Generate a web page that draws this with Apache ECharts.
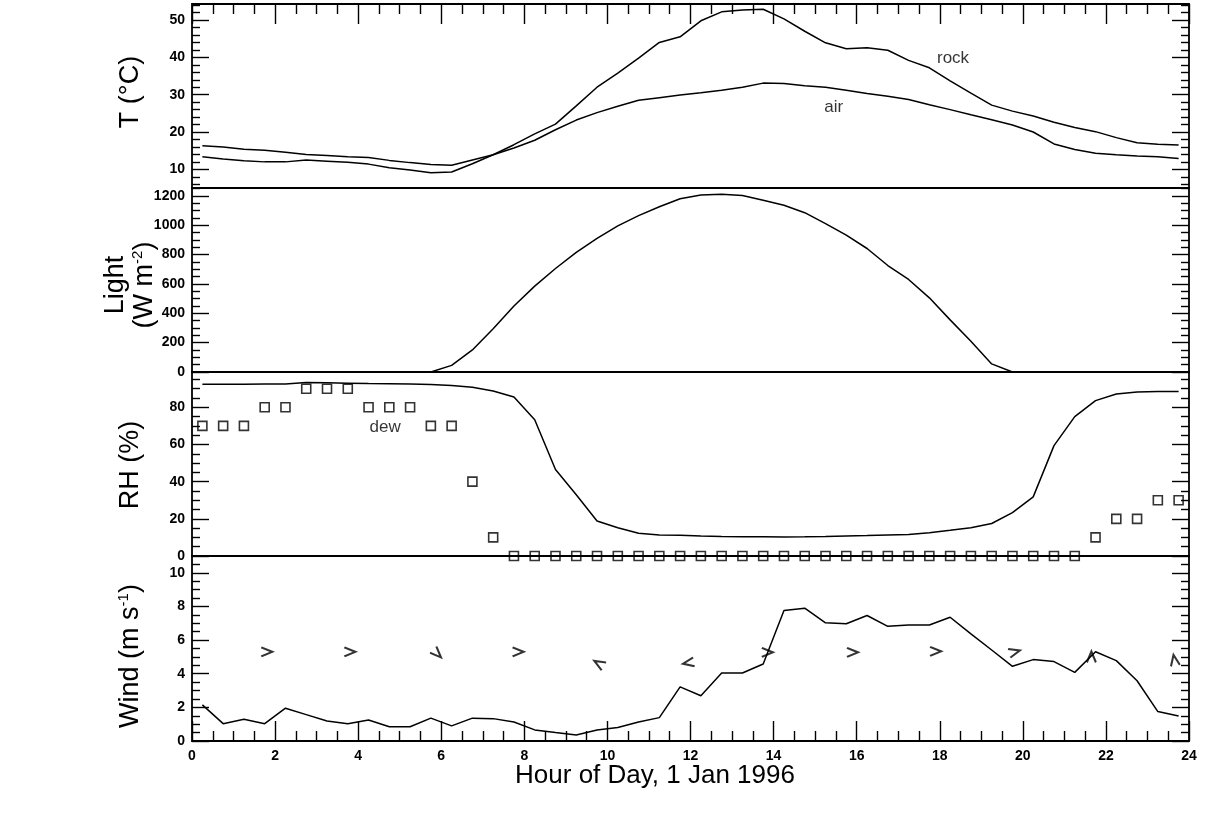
<!DOCTYPE html>
<html>
<head>
<meta charset="utf-8">
<script src="https://cdn.jsdelivr.net/npm/echarts@6/dist/echarts.min.js"></script>
<style>
  html, body { margin: 0; padding: 0; background: #fff; }
  #chart { width: 1215px; height: 819px; }
</style>
</head>
<body>
<div id="chart"></div>
<script>
// ---------- DATA ----------
const hours = [0.25,0.75,1.25,1.75,2.25,2.75,3.25,3.75,4.25,4.75,5.25,5.75,
  6.25,6.75,7.25,7.75,8.25,8.75,9.25,9.75,10.25,10.75,11.25,11.75,
  12.25,12.75,13.25,13.75,14.25,14.75,15.25,15.75,16.25,16.75,17.25,17.75,
  18.25,18.75,19.25,19.75,20.25,20.75,21.25,21.75,22.25,22.75,23.25,23.75];

const rockT = [13.4,12.8,12.3,12.0,12.0,12.5,12.2,11.9,11.4,10.4,9.8,9.1,
  9.3,11.5,13.9,16.6,19.5,22.1,27.0,32.0,35.8,39.8,44.0,45.5,
  49.8,52.2,52.7,52.9,50.3,47.0,43.9,42.3,42.6,41.9,39.2,37.2,
  33.7,30.4,27.2,25.6,24.3,22.6,21.2,20.1,18.5,17.1,16.7,16.5];

const airT = [16.3,16.0,15.4,15.1,14.6,14.0,13.7,13.4,13.2,12.4,11.8,11.3,
  11.1,12.5,13.9,15.7,17.8,20.6,23.2,25.2,26.9,28.5,29.2,29.9,
  30.5,31.2,32.0,33.1,33.0,32.4,32.0,31.2,30.3,29.6,28.7,27.3,
  26.0,24.6,23.3,21.9,20.0,16.8,15.3,14.3,13.9,13.6,13.4,12.9];

const light = [0,0,0,0,0,0,0,0,0,0,0,0,
  45,150,295,450,585,705,815,910,995,1065,1125,1180,
  1205,1210,1202,1170,1135,1085,1010,932,841,725,630,505,
  355,210,55,0,0,0,0,0,0,0,0,0];

const rh = [92.4,92.4,92.4,92.5,92.6,93.3,93.2,93.0,92.8,92.7,92.6,92.3,
  91.8,90.8,88.8,85.5,73.3,46.5,33.0,18.8,15.2,12.2,11.3,11.1,
  10.7,10.5,10.4,10.3,10.2,10.3,10.5,10.8,11.0,11.3,11.6,12.5,
  13.8,15.2,17.5,23.3,31.8,59.4,75.0,83.6,87.2,88.3,88.5,88.5];

const dew = [70,70,70,80,80,90,90,90,80,80,80,70,
  70,40,10,0,0,0,0,0,0,0,0,0,
  0,0,0,0,0,0,0,0,0,0,0,0,
  0,0,0,0,0,0,0,10,20,20,30,30];

const wind = [2.15,1.03,1.29,1.03,1.95,1.57,1.19,1.03,1.25,0.85,0.85,1.36,
  0.90,1.36,1.33,1.13,0.66,0.50,0.36,0.66,0.80,1.13,1.39,3.22,
  2.69,4.04,4.04,4.58,7.76,7.90,7.03,6.97,7.46,6.82,6.90,6.90,
  7.36,6.37,5.41,4.44,4.84,4.72,4.08,5.31,4.78,3.58,1.75,1.49];

// wind direction arrows: hour, height on wind axis, arrow rotation (deg, counter-clockwise from pointing right)
const arrowHours = [1.8,3.8,5.9,7.85,9.8,11.95,13.85,15.9,17.9,19.8,21.65,23.65];
const arrowLevel = [5.3,5.3,5.2,5.3,4.6,4.65,5.27,5.27,5.33,5.3,5.0,4.8];
const arrowRot = [0,0,-45,0,150,190,0,0,0,15,90,100];

// tick labels
const xTicks = [0,2,4,6,8,10,12,14,16,18,20,22,24];
const tTicks = [10,20,30,40,50];
const lightTicks = [0,200,400,600,800,1000,1200];
const rhTicks = [0,20,40,60,80];
const windTicks = [0,2,4,6,8,10];

// annotations: [hour, value, text]
const rockLabel = [18.32, 39.8, 'rock'];
const airLabel = [15.45, 26.7, 'air'];
const dewLabel = [4.65, 69, 'dew'];

// ---------- BUILD ----------
const FONT = '"Liberation Sans", Arial, Helvetica, sans-serif';
function minorList(from, to, step, majors) {
  const out = [];
  for (let v = from; v <= to + 1e-9; v += step) {
    const r = Math.round(v * 100) / 100;
    if (majors.indexOf(r) < 0) out.push(r);
  }
  return out;
}
const tMinor = minorList(6, 54, 2, tTicks);
const lightMinor = minorList(50, 1250, 50, lightTicks);
const rhMinor = minorList(5, 95, 5, rhTicks);
const windMinor = minorList(0.5, 10.5, 0.5, windTicks);

const tickStyle = { color: '#000', width: 1.4 };
const tickLabel = { color: '#000', fontSize: 14, fontWeight: 'bold', fontFamily: FONT,
  formatter: function (v) { return String(v); } };
function yAxesFor(grid, min, max, major, minor) {
  const base = { type: 'value', gridIndex: grid, min: min, max: max,
    axisLine: { show: false }, splitLine: { show: false } };
  return [
    Object.assign({}, base, { position: 'left',
      axisTick: { show: true, inside: true, length: 17, customValues: major, lineStyle: tickStyle },
      axisLabel: Object.assign({ show: true, customValues: major, margin: 7 }, tickLabel) }),
    Object.assign({}, base, { position: 'left',
      axisTick: { show: true, inside: true, length: 8, customValues: minor, lineStyle: tickStyle },
      axisLabel: { show: false } }),
    Object.assign({}, base, { position: 'right',
      axisTick: { show: true, inside: true, length: 17, customValues: major, lineStyle: tickStyle },
      axisLabel: { show: false } }),
    Object.assign({}, base, { position: 'right',
      axisTick: { show: true, inside: true, length: 8, customValues: minor, lineStyle: tickStyle },
      axisLabel: { show: false } })
  ];
}

const gridBase = { left: 192, right: 26, show: true, borderColor: '#000', borderWidth: 1.8,
  backgroundColor: 'transparent' };
const grids = [
  Object.assign({ top: 4, height: 184 }, gridBase),
  Object.assign({ top: 188, height: 184 }, gridBase),
  Object.assign({ top: 372, height: 184 }, gridBase),
  Object.assign({ top: 556, height: 185 }, gridBase)
];

function xAxisFor(grid, pos, showTicks, showLabels) {
  return {
    type: 'value', gridIndex: grid, min: 0, max: 24, interval: 2, position: pos,
    axisLine: { show: false }, splitLine: { show: false },
    axisTick: { show: showTicks, inside: true, length: 20, lineStyle: tickStyle },
    minorTick: { show: showTicks, splitNumber: 4, length: 10, lineStyle: tickStyle },
    axisLabel: Object.assign({ show: showLabels, customValues: xTicks, margin: 8 }, tickLabel)
  };
}

const zip = (xs, ys) => xs.map((x, i) => [x, ys[i]]);
const lineStyle = { color: '#000', width: 1.5 };
function lineSeries(name, xi, yi, values) {
  return { name: name, type: 'line', xAxisIndex: xi, yAxisIndex: yi, data: zip(hours, values),
    symbol: 'none', lineStyle: lineStyle, silent: true, z: 3 };
}
function textSeries(xi, yi, lab) {
  return { type: 'scatter', xAxisIndex: xi, yAxisIndex: yi, data: [[lab[0], lab[1]]],
    symbolSize: 1, itemStyle: { color: 'rgba(0,0,0,0)' }, silent: true,
    label: { show: true, position: 'inside', formatter: lab[2], color: '#000', fontSize: 17,
      fontFamily: FONT } };
}

const arrowData = arrowHours.map((h, i) => [h, arrowLevel[i], arrowRot[i]]);

const nameStyle = { fill: '#000', align: 'center', verticalAlign: 'middle',
  textAlign: 'center', textVerticalAlign: 'middle' };
const richName = { a: { fontSize: 27, fontFamily: FONT, lineHeight: 29, fill: '#000' },
  s: { fontSize: 15, fontFamily: FONT, lineHeight: 15, verticalAlign: 'top', fill: '#000' } };

const option = {
  animation: false,
  backgroundColor: '#fff',
  grid: grids,
  xAxis: [
    xAxisFor(0, 'top', true, false),
    xAxisFor(1, 'bottom', false, false),
    xAxisFor(2, 'bottom', false, false),
    xAxisFor(3, 'bottom', true, true)
  ],
  yAxis: [].concat(
    yAxesFor(0, 5, 54.3, tTicks, tMinor),
    yAxesFor(1, 0, 1253, lightTicks, lightMinor),
    yAxesFor(2, 0, 99, rhTicks, rhMinor),
    yAxesFor(3, 0, 11, windTicks, windMinor)
  ),
  series: [
    lineSeries('rock', 0, 0, rockT),
    lineSeries('air', 0, 0, airT),
    lineSeries('light', 1, 4, light),
    lineSeries('RH', 2, 8, rh),
    { name: 'dew', type: 'scatter', xAxisIndex: 2, yAxisIndex: 8, data: zip(hours, dew),
      symbol: 'rect', symbolSize: 9, silent: true, clip: false,
      itemStyle: { color: 'rgba(0,0,0,0)', borderColor: '#000', borderWidth: 1.6 } },
    lineSeries('wind', 3, 12, wind),
    { name: 'direction', type: 'scatter', xAxisIndex: 3, yAxisIndex: 12, data: arrowData,
      symbol: 'path://M0,0 L12,5 L0,10', symbolSize: [11, 9], silent: true,
      symbolRotate: function (v) { return v[2]; },
      itemStyle: { color: 'rgba(0,0,0,0)', borderColor: '#000', borderWidth: 2.2 } },
    textSeries(0, 0, rockLabel),
    textSeries(0, 0, airLabel),
    textSeries(2, 8, dewLabel)
  ],
  graphic: [
    { type: 'text', x: 131, y: 92, rotation: Math.PI / 2,
      style: Object.assign({ text: 'T (°C)', font: '27px ' + FONT }, nameStyle) },
    { type: 'text', x: 130, y: 285, rotation: Math.PI / 2,
      style: Object.assign({ text: '{a|Light}\n{a|(W m}{s|-2}{a|)}', rich: richName }, nameStyle) },
    { type: 'text', x: 131, y: 465, rotation: Math.PI / 2,
      style: Object.assign({ text: 'RH (%)', font: '27px ' + FONT }, nameStyle) },
    { type: 'text', x: 131, y: 656, rotation: Math.PI / 2,
      style: Object.assign({ text: '{a|Wind (m s}{s|-1}{a|)}', rich: richName }, nameStyle) },
    { type: 'text', x: 655, y: 776,
      style: Object.assign({ text: 'Hour of Day, 1 Jan 1996', font: '26px ' + FONT }, nameStyle) }
  ]
};

const chart = echarts.init(document.getElementById('chart'), null, { renderer: 'canvas' });
chart.setOption(option);
</script>
</body>
</html>
